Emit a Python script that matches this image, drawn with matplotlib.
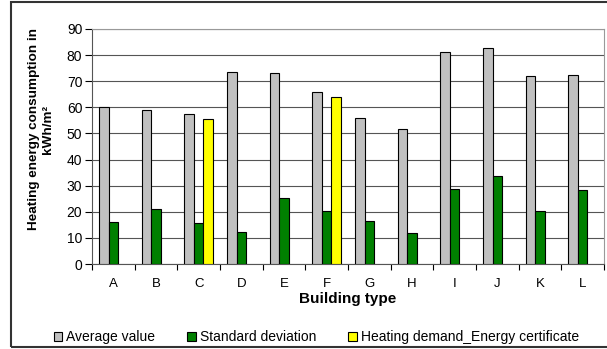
import matplotlib
matplotlib.use("Agg")
import matplotlib.pyplot as plt
import numpy as np
from matplotlib.patches import Rectangle

categories = ["A", "B", "C", "D", "E", "F", "G", "H", "I", "J", "K", "L"]
average_value = [60.0, 59.0, 57.4, 73.5, 73.1, 66.0, 56.0, 51.6, 81.3, 82.6, 72.0, 72.3]
standard_deviation = [16.0, 21.1, 15.6, 12.1, 25.2, 20.4, 16.6, 11.7, 28.6, 33.7, 20.4, 28.2]
heating_demand = [np.nan, np.nan, 55.7, np.nan, np.nan, 64.1, np.nan, np.nan, np.nan, np.nan, np.nan, np.nan]
yticks = list(range(0, 91, 10))

plt.rcParams['font.family'] = ['Liberation Sans', 'DejaVu Sans']

W, H = 607, 349
fig = plt.figure(figsize=(W/100, H/100), dpi=100)
ax = fig.add_axes([92/W, 1-264/H, (604-92)/W, (264-29)/H])

x = np.arange(len(categories))
w = 0.226
ax.bar(x - w, average_value, w, color="#c0c0c0", edgecolor="black", linewidth=0.8, label="Average value", zorder=3)
ax.bar(x, standard_deviation, w, color="#008000", edgecolor="black", linewidth=0.8, label="Standard deviation", zorder=3)
ax.bar(x + w, heating_demand, w, color="#ffff00", edgecolor="black", linewidth=0.8, label="Heating demand_Energy certificate", zorder=3)

ax.set_xlim(-0.5, len(categories) - 0.5)
ax.set_ylim(0, 90)
ax.set_yticks(yticks)
ax.set_yticklabels([str(t) for t in yticks], fontsize=10)
ax.set_xticks(x)
ax.set_xticklabels(categories, fontsize=9.5)
ax.set_xticks(np.arange(-0.5, len(categories), 1), minor=True)
ax.tick_params(axis='x', which='major', length=0, pad=10)
ax.tick_params(axis='x', which='minor', length=4, width=0.8, direction='out')
ax.tick_params(axis='y', length=5, width=0.8, direction='out', pad=2)
ax.grid(axis='y', color="#555555", linewidth=0.8, zorder=0)
for s in ['top', 'right']:
    ax.spines[s].set_color("#999999")
for s in ['left', 'bottom']:
    ax.spines[s].set_color("#555555")

ax.set_ylabel("Heating energy consumption in\nkWh/m²", fontsize=9.7, fontweight='bold')
ax.yaxis.set_label_coords((54-92)/512, (264-129)/235)
ax.set_xlabel("Building type", fontsize=11, fontweight='bold')
ax.xaxis.set_label_coords(0.5, -(292-264)/235)

leg = fig.legend(loc='center left', bbox_to_anchor=(54/W, 1-337/H), ncol=3, frameon=False,
                 fontsize=10, handlelength=0.6, handleheight=0.6, handletextpad=0.3,
                 columnspacing=2.3, borderaxespad=0, borderpad=0)
for h in leg.legend_handles:
    h.set_linewidth(0.8)

fig.patches.append(Rectangle((11/W, 2/H), (620-11)/W, (347-2)/H, transform=fig.transFigure,
                             fill=False, edgecolor="#333333", linewidth=1.5))

fig.savefig("out.png", dpi=100)
